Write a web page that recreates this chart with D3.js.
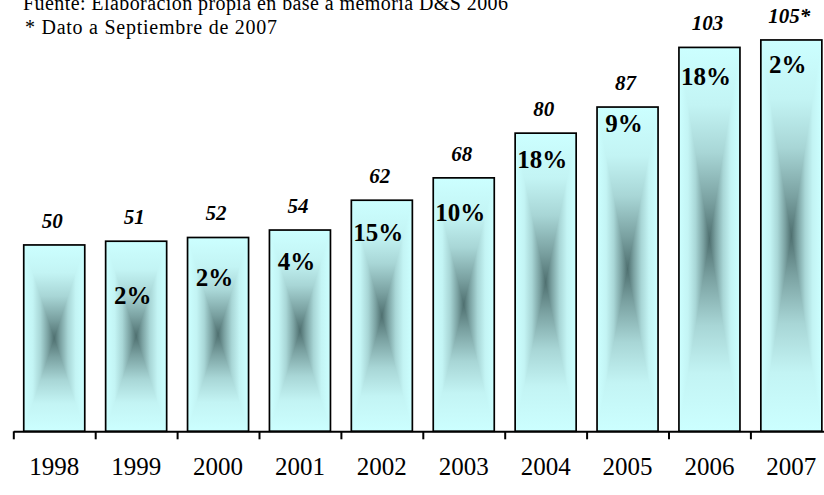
<!DOCTYPE html>
<html>
<head>
<meta charset="utf-8">
<script src="https://cdn.jsdelivr.net/npm/d3@7"></script>
<style>
  html, body { margin: 0; padding: 0; background: #fff; }
  svg { display: block; }
  text { font-family: "Liberation Serif", "Times New Roman", Times, serif; fill: #000; }
</style>
</head>
<body>
<svg id="chart" width="824" height="495"></svg>
<script>
// ---- data ----
const years = ["1998", "1999", "2000", "2001", "2002", "2003", "2004", "2005", "2006", "2007"];
const values = [50, 51, 52, 54, 62, 68, 80, 87, 103, 105];
const valueNotes = ["", "", "", "", "", "", "", "", "", "*"];
const growthPct = [null, 2, 2, 4, 15, 10, 18, 9, 18, 2];
const noteLines = [
  "Fuente: Elaboración propia en base a memoria D&S 2006",
  "* Dato a Septiembre de 2007"
];

// ---- layout (not data) ----
const W = 824, H = 495;
const baseY = 431.3;
const pctDrop = [0, 62.6, 48.9, 40, 41, 42.7, 35.3, 24.9, 37.7, 33.3]; // px below bar top for the growth labels
const noteWidths = [485, 252];
const FONT = "'Liberation Serif', 'Times New Roman', Times, serif";

const svg = d3.select("#chart");

const x = d3.scaleBand().domain(years).range([13.3, 832.3]).paddingInner(0.255).paddingOuter(0.1275);
const y = d3.scaleLinear().domain([0, 105]).range([baseY, baseY - 105 * 3.727]);
const idx = d3.scaleLinear().domain([0, years.length]).range(x.range());

// gradients: t from edge (light) to centre (dark)
const stops = [
  [0, "#CCFFFF"], [0.3, "#C3F4F4"], [0.55, "#A8D6D6"], [0.8, "#7AA1A1"], [1, "#4F7070"]
];
const defs = svg.append("defs");
function grad(id, x1, y1, x2, y2, st) {
  const g = defs.append("linearGradient").attr("id", id)
    .attr("x1", x1).attr("y1", y1).attr("x2", x2).attr("y2", y2);
  st.forEach(s => g.append("stop").attr("offset", s[0]).attr("stop-color", s[1]));
}
const mirrored = stops.map(s => [s[0] / 2, s[1]]).concat(stops.slice(0, -1).reverse().map(s => [1 - s[0] / 2, s[1]]));
grad("gV", 0, 0, 0, 1, mirrored);
grad("gL", 0, 0, 1, 0, stops);
grad("gR", 1, 0, 0, 0, stops);

const data = years.map((yr, i) => ({ yr, v: values[i], note: valueNotes[i], g: growthPct[i], drop: pctDrop[i] }));

const bars = svg.append("g").selectAll("g").data(data).join("g");
bars.each(function (d) {
  const g = d3.select(this);
  const x0 = x(d.yr), x1 = x0 + x.bandwidth();
  const y0 = y(d.v), y1 = y(0);
  const cx = (x0 + x1) / 2, cy = (y0 + y1) / 2;
  g.append("rect").attr("x", x0).attr("y", y0).attr("width", x1 - x0).attr("height", y1 - y0)
    .attr("fill", "url(#gV)");
  g.append("path").attr("d", `M${x0},${y0}L${cx},${cy}L${x0},${y1}Z`).attr("fill", "url(#gL)");
  g.append("path").attr("d", `M${x1},${y0}L${cx},${cy}L${x1},${y1}Z`).attr("fill", "url(#gR)");
  g.append("rect").attr("x", x0).attr("y", y0).attr("width", x1 - x0).attr("height", y1 - y0)
    .attr("fill", "none").attr("stroke", "#000").attr("stroke-width", 1.7);
});

// value labels
svg.append("g").selectAll("text").data(data).join("text")
  .attr("x", d => x(d.yr) + x.bandwidth() / 2 - 2)
  .attr("y", d => y(d.v) - 17)
  .attr("text-anchor", "middle")
  .style("font-family", FONT)
  .style("font-size", "21px").style("font-weight", "bold").style("font-style", "italic")
  .text(d => d.v + d.note);

// growth labels
svg.append("g").selectAll("text").data(data.filter(d => d.g !== null)).join("text")
  .attr("x", d => x(d.yr) + x.bandwidth() / 2 - 3.5)
  .attr("y", d => y(d.v) + d.drop)
  .attr("text-anchor", "middle")
  .style("font-family", FONT)
  .style("font-size", "25px").style("font-weight", "bold")
  .text(d => d.g + "%");

// axis with ticks at category boundaries
const axisG = svg.append("g").attr("transform", `translate(0,${baseY})`)
  .call(d3.axisBottom(idx).tickValues(d3.range(years.length + 1)).tickSize(8).tickSizeOuter(0).tickFormat(""));
axisG.select(".domain").attr("stroke", "#000").attr("stroke-width", 2);
axisG.selectAll(".tick line").attr("stroke", "#000").attr("stroke-width", 2);

// year labels
const labG = svg.append("g").attr("transform", `translate(0,${baseY})`)
  .call(d3.axisBottom(x).tickSize(0).tickPadding(0));
labG.select(".domain").remove();
labG.selectAll(".tick text").attr("y", 44).attr("dy", 0)
  .style("font-size", "25px").style("font-family", FONT).attr("fill", "#000");

// notes
svg.append("g").selectAll("text").data(noteLines).join("text")
  .attr("x", (d, i) => i === 0 ? 23 : 25)
  .attr("y", (d, i) => 10 + i * 24)
  .attr("textLength", (d, i) => noteWidths[i])
  .attr("lengthAdjust", "spacing")
  .style("font-family", FONT)
  .style("font-size", "20px")
  .text(d => d);
</script>
</body>
</html>
